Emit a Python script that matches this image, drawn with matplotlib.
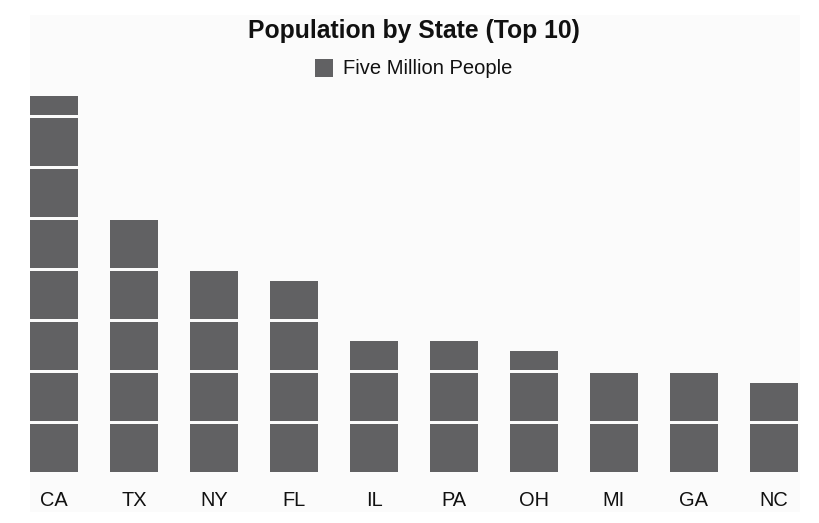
import numpy as np
import matplotlib
matplotlib.use("Agg")
import matplotlib.pyplot as plt
from matplotlib.patches import Rectangle

plt.rcParams['font.family'] = ['Liberation Sans', 'DejaVu Sans']

# data (millions of people)
states = ["CA", "TX", "NY", "FL", "IL", "PA", "OH", "MI", "GA", "NC"]
population = [37, 25, 20, 19, 13, 13, 12, 10, 10, 9]
unit_size = 5  # one block = five million people
unit_label = "Five Million People"
title = "Population by State (Top 10)"

bar_color = "#616163"
W, H = 819, 523

fig = plt.figure(figsize=(W / 100, H / 100), dpi=100, facecolor="white")

# faint chart panel behind everything
fig.patches.append(Rectangle((30 / W, 1 - 512 / H), 770 / W, 497 / H,
                             transform=fig.transFigure, facecolor="#fbfbfb",
                             edgecolor="none", zorder=-5))

# axes: x from -0.5..9.5 covers 14..814 px, y 0..8 covers 472..64 px
ax = fig.add_axes([14 / W, 1 - 472 / H, 800 / W, 408 / H])
ax.set_zorder(2)
ax.set_xlim(-0.5, len(states) - 0.5)
ax.set_ylim(0, 8)
ax.patch.set_alpha(0)

fill = 48 / 51  # drawn fraction of each block, rest is the white gap
for i, p in enumerate(population):
    units = p / unit_size
    n_full = int(np.floor(units))
    heights = [1.0] * n_full
    if units - n_full > 1e-9:
        heights.append(units - n_full)
    for k, h in enumerate(heights):
        ax.bar(i, h * fill, bottom=k, width=0.6, color=bar_color,
               edgecolor="none")

ax.set_xticks(range(len(states)))
ax.set_xticklabels(states, fontsize=14.4, color="#111111")
ax.tick_params(axis="x", length=0, pad=13.5)
ax.set_yticks([])
for s in ax.spines.values():
    s.set_visible(False)

fig.text(414 / W, 1 - 31 / H, title, ha="center", va="center",
         fontsize=17.8, fontweight="bold", color="#111111")

# legend
fig.patches.append(Rectangle((315 / W, 1 - 77 / H), 18 / W, 18 / H,
                             transform=fig.transFigure, facecolor=bar_color,
                             edgecolor="none"))
fig.text(343 / W, 1 - 68 / H, unit_label, ha="left", va="center",
         fontsize=14.5, color="#111111")

fig.savefig("out.png", dpi=100)
